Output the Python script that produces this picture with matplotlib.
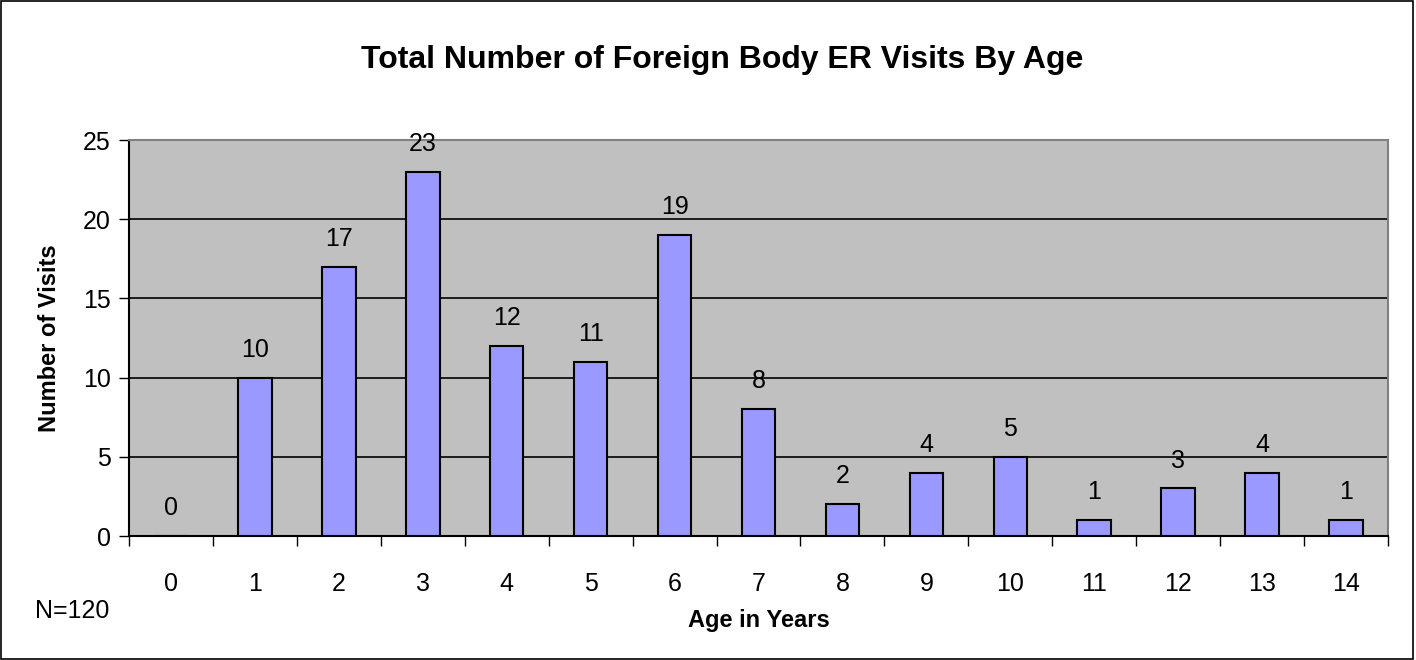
from matplotlib import pyplot as plt
import numpy as np

ages = list(range(15))
visits = [0, 10, 17, 23, 12, 11, 19, 8, 2, 4, 5, 1, 3, 4, 1]
y_ticks = [0, 5, 10, 15, 20, 25]

plt.rcParams['font.family'] = ['Liberation Sans', 'DejaVu Sans']

fig = plt.figure(figsize=(14.16, 6.6), dpi=100)
ax = fig.add_axes([129 / 1416, 1 - 536 / 660, (1388 - 129) / 1416, (536 - 140) / 660])
ax.set_facecolor("#C0C0C0")

x = np.arange(len(ages))
ax.bar(x, visits, width=0.4, color="#9999FF", edgecolor="black", linewidth=1.5, zorder=3)

for xi, v in zip(x, visits):
    ax.text(xi, v + 1.0, str(v), ha="center", va="bottom", fontsize=18, zorder=4)

ax.set_xlim(-0.5, len(ages) - 0.5)
ax.set_ylim(0, 25)
ax.set_yticks(y_ticks)
ax.set_yticklabels([str(t) for t in y_ticks], fontsize=18)
ax.yaxis.grid(True, color="black", linewidth=1.2, zorder=1)
ax.set_axisbelow(True)

ax.set_xticks(x)
ax.set_xticklabels([str(a) for a in ages], fontsize=18)
ax.tick_params(axis="x", which="major", length=0, pad=26)
ax.set_xticks(np.arange(-0.5, len(ages), 1), minor=True)
ax.tick_params(axis="x", which="minor", length=7, width=1, direction="out")
ax.tick_params(axis="y", length=7, width=1, direction="out", pad=6)

for side in ["left", "bottom"]:
    ax.spines[side].set_color("black")
    ax.spines[side].set_linewidth(1.5)
for side in ["top", "right"]:
    ax.spines[side].set_color("#808080")
    ax.spines[side].set_linewidth(1.5)

ax.set_xlabel("Age in Years", fontsize=17, fontweight="bold", labelpad=9)
ax.set_ylabel("Number of Visits", fontsize=17, fontweight="bold", labelpad=16)
fig.text(722 / 1416, 1 - 60 / 660, "Total Number of Foreign Body ER Visits By Age",
         ha="center", va="center", fontsize=23, fontweight="bold")
fig.text(35 / 1416, 1 - 611 / 660, "N=120", ha="left", va="center", fontsize=18)

fig.patches.append(plt.Rectangle((0.001, 0.002), 0.997, 0.996, transform=fig.transFigure,
                                 fill=False, edgecolor="black", linewidth=1.2))

fig.savefig("out.png", dpi=100)
